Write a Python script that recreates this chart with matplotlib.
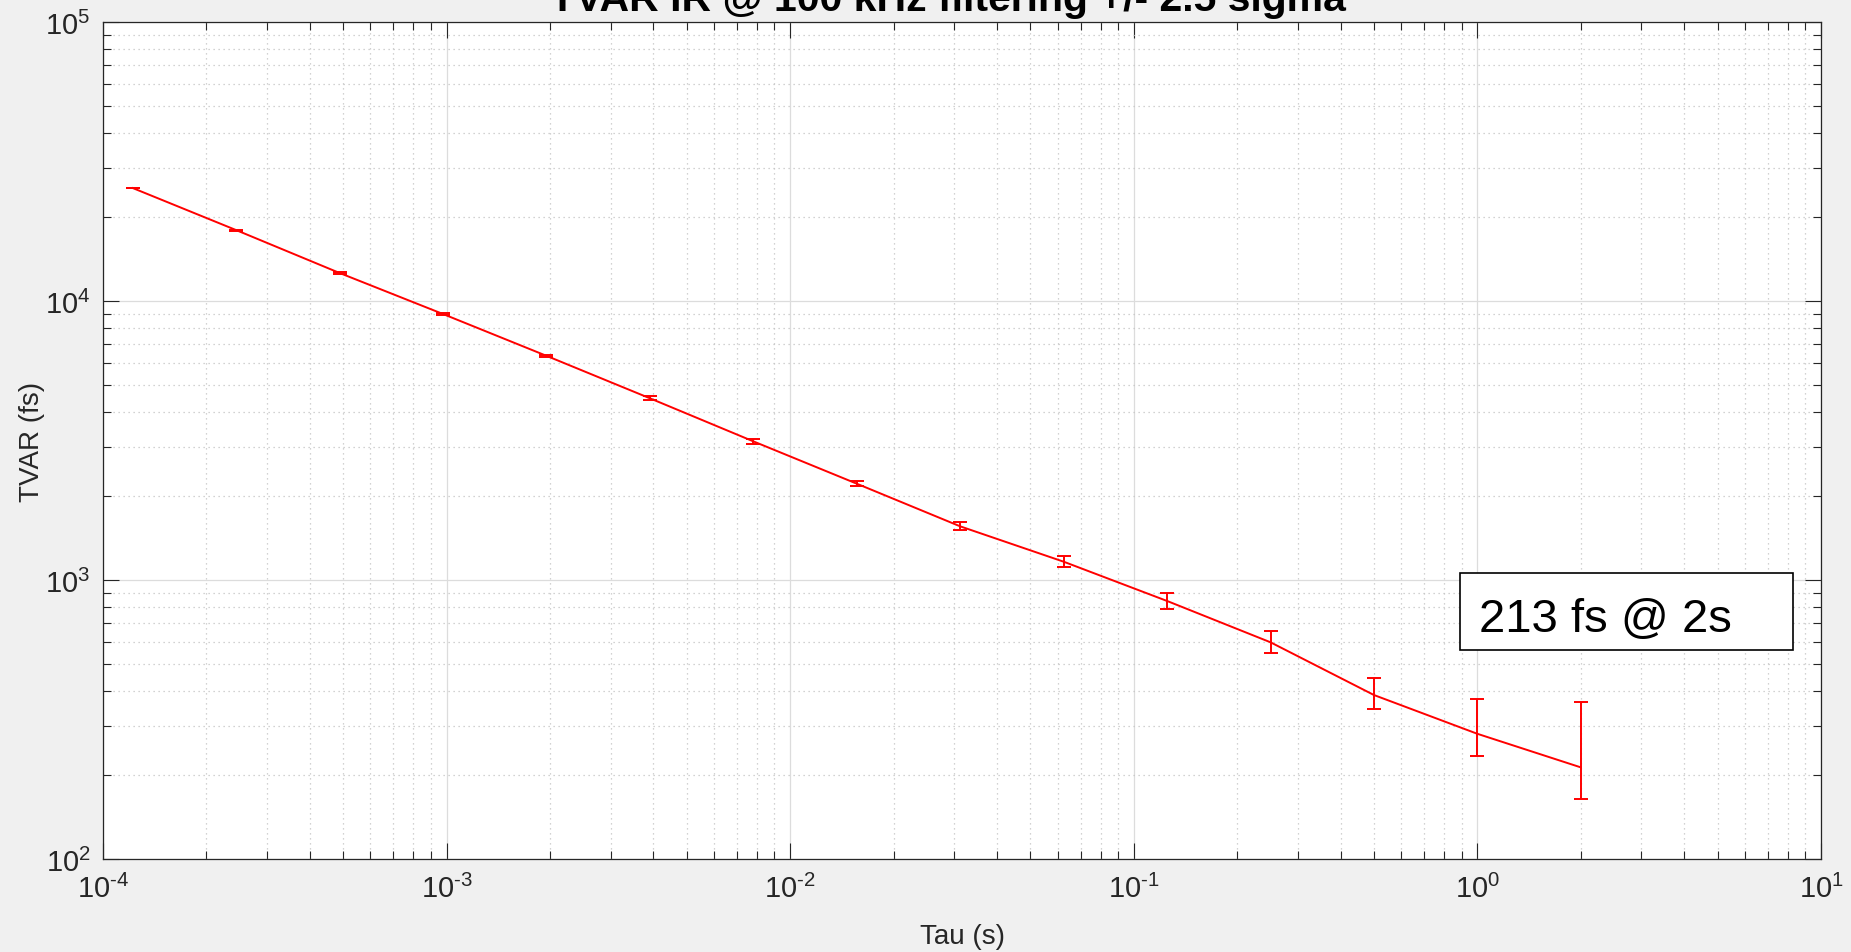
import matplotlib
matplotlib.use("Agg")
import matplotlib.pyplot as plt
import numpy as np
from matplotlib.patches import Rectangle
from matplotlib.ticker import LogLocator, NullFormatter, FuncFormatter

# data
tau = [1.2207e-4, 2.4414e-4, 4.8828e-4, 9.7656e-4, 1.9531e-3, 3.9063e-3, 7.8125e-3,
       0.015625, 0.03125, 0.0625, 0.125, 0.25, 0.5, 1.0, 2.0]
tvar = [25400, 17950, 12600, 8980, 6360, 4480, 3140, 2214, 1557, 1163, 841, 598, 387, 281, 213]
tvar_lo = [25320, 17890, 12530, 8920, 6300, 4410, 3080, 2165, 1506, 1116, 789, 546, 344, 234, 164]
tvar_hi = [25480, 18010, 12670, 9040, 6420, 4550, 3200, 2260, 1614, 1219, 896, 658, 447, 374, 365]

title_txt = "TVAR IR @ 100 kHz filtering +/- 2.5 sigma"
note_txt = "213 fs @ 2s"

plt.rcParams['font.family'] = ['Liberation Sans', 'DejaVu Sans']
plt.rcParams['mathtext.fontset'] = 'custom'
plt.rcParams['mathtext.rm'] = 'Liberation Sans'
plt.rcParams['mathtext.it'] = 'Liberation Sans:italic'
plt.rcParams['mathtext.bf'] = 'Liberation Sans:bold'
plt.rcParams['axes.unicode_minus'] = False

gray = '#262626'

fig = plt.figure(figsize=(18.51, 9.53), dpi=100, facecolor='#f0f0f0')
ax = fig.add_axes([103/1851, 93/953, 1718/1851, 837/953])
ax.set_facecolor('white')

t = np.array(tvar)
yerr = [t - np.array(tvar_lo), np.array(tvar_hi) - t]
ax.errorbar(tau, tvar, yerr=yerr, color='red', lw=1.4, elinewidth=1.4,
            capsize=4.8, capthick=1.4)

ax.set_xscale('log')
ax.set_yscale('log')
ax.set_xlim(1e-4, 10)
ax.set_ylim(1e2, 1e5)

def dec_label(v, pos):
    e = int(round(np.log10(v)))
    if e < 0:
        return r"$\mathregular{10^{\text{-}%d}}$" % (-e)
    return r"$\mathregular{10^{%d}}$" % e

for a in (ax.xaxis, ax.yaxis):
    a.set_major_locator(LogLocator(base=10, numticks=20))
    a.set_minor_locator(LogLocator(base=10, subs=np.arange(2, 10), numticks=20))
    a.set_major_formatter(FuncFormatter(dec_label))
    a.set_minor_formatter(NullFormatter())

ax.grid(True, which='major', color='#dcdcdc', lw=0.9, ls='-')
ax.grid(True, which='minor', color='#c4c4c4', lw=0.9, ls=(0, (1, 3)))
ax.set_axisbelow(True)

ax.tick_params(which='both', direction='in', top=True, right=True, colors=gray,
               labelsize=21, width=0.8)
ax.tick_params(which='major', length=11.5)
ax.tick_params(axis='x', which='major', pad=11)
ax.tick_params(axis='y', which='major', pad=9)
ax.tick_params(which='minor', length=5.8)
for s in ax.spines.values():
    s.set_color(gray)
    s.set_linewidth(0.9)

ax.set_xlabel("Tau (s)", fontsize=20, color=gray)
ax.set_ylabel("TVAR (fs)", fontsize=20, color=gray)
ax.xaxis.set_label_coords(0.5, -0.077)
ax.yaxis.set_label_coords(-0.034, 0.5)

fig.text(948/1851, 1 - 11/953, title_txt, fontsize=29.5, fontweight='bold',
         ha='center', va='baseline', color='black')

# annotation box
fig.patches.append(Rectangle((1460/1851, 1 - 651/953), 333/1851, 77/953,
                             transform=fig.transFigure, fill=True, facecolor='white',
                             edgecolor='black', lw=1.2, zorder=5))
fig.text(1479/1851, 1 - 632/953, note_txt, fontsize=34, color='black',
         ha='left', va='baseline', zorder=6)

fig.savefig("out.png", dpi=100, facecolor=fig.get_facecolor())
